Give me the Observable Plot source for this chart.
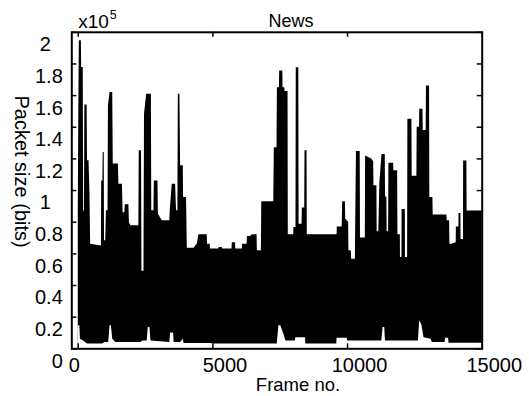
<!DOCTYPE html>
<html><head><meta charset="utf-8">
<script src="https://cdn.jsdelivr.net/npm/d3@7"></script>
<script src="https://cdn.jsdelivr.net/npm/@observablehq/plot@0.6"></script>
<style>
html,body{margin:0;padding:0;background:#fff;}
svg{display:block;}
g[aria-label="title"] text{letter-spacing:1.5px;}
g[aria-label="xlabel"] text{letter-spacing:1.3px;}
g[aria-label="ylabel"] text{letter-spacing:1px;}
g[aria-label="exponent"] text{letter-spacing:1px;}
</style></head>
<body><div id="chart"></div>
<script>
// Upper envelope of the packet-size trace (frame no., bits)
const upperFrames = [0,20,40,115,125,185,200,230,245,330,345,400,410,435,460,860,870,915,925,965,975,1020,1045,1105,1120,1180,1280,1300,1490,1510,1640,1665,1730,1745,1880,1900,1950,2250,2265,2350,2365,2440,2460,2540,2715,2730,2810,2825,2960,2975,3120,3400,3415,3490,3615,3650,3700,3715,3775,3800,3900,3910,4020,4050,4300,4420,4480,4790,4800,4900,4910,5220,5230,5350,5360,5710,5720,5840,5850,6090,6100,6270,6280,6400,6460,6640,6650,6800,6815,7260,7280,7380,7395,7470,7480,7595,7605,7670,7680,7790,7800,8000,8010,8085,8095,8190,8200,8310,8320,8410,8420,8495,8505,9610,9620,9800,9820,9920,9930,10040,10050,10140,10150,10290,10330,10470,10480,10660,10670,10900,10970,10980,11090,11100,11160,11200,11280,11400,11410,11460,11470,11525,11535,11710,11720,11860,11870,11960,11965,12020,12025,12145,12150,12230,12240,12390,12400,12575,12585,12675,12680,12800,12810,12920,12930,13045,13055,13170,13180,13690,13700,13790,13800,13875,14035,14040,14135,14140,14210,14215,14305,14310,14430,14440,15000];
const upperBits = [87000,150000,194600,194600,177700,177700,87000,87000,154000,154000,118800,118800,112500,97700,66000,65000,106100,106100,124000,124000,68200,68200,87200,87200,153500,162000,162000,116700,116700,104000,104000,86000,86000,91000,91000,79800,77700,77700,125100,125100,49000,49000,148200,160900,160900,87200,87200,106100,106100,85100,80900,80900,87200,104000,104000,87200,87200,160900,160900,115600,115600,95600,95600,63600,63600,66100,72000,72000,66100,66100,63000,63000,64000,64000,63000,63000,67000,67000,63000,63000,66100,66100,71000,71000,72000,72000,62000,62000,93000,93000,127000,127000,165000,165000,175600,175600,165000,165000,162600,162600,72000,72000,76600,76600,177600,177600,78700,78700,89000,89000,125100,125100,72000,72000,77000,77000,93000,93000,82000,80000,62000,62000,56600,56600,124600,124600,70000,70000,121800,120000,118000,103000,103000,74000,74000,105000,122800,122800,96000,96000,74000,74000,117200,117200,112500,112500,72000,72000,57700,57700,88000,88000,57700,57700,145100,145100,109000,109000,140000,140000,151400,151400,138000,138000,166100,166100,95600,95600,84500,84500,80900,80900,66100,66100,67000,77000,77000,85500,85500,69000,69000,118600,118600,87000,87000];
// Lower envelope of the trace (frame no., bits)
const lowerFrames = [0,60,80,200,340,900,1000,1130,1180,1230,1280,1400,2330,2400,2560,2600,2660,2700,3400,3430,3540,3560,3800,3900,3930,4900,5030,7390,7450,7520,7640,7710,8060,8080,8440,8450,9600,9610,9990,10000,11270,11320,11380,11410,12630,12680,12760,12840,13100,13150,13620,13640,13750,13770,15000];
const lowerBits = [14500,14500,6000,5000,3000,3000,4000,4000,14500,14500,6000,4000,4000,5000,5000,13500,13500,5000,4000,10000,10000,4000,4000,6000,3300,3300,3000,3000,14500,14500,9000,5000,5000,7000,7000,3000,3000,6600,6600,5000,5000,13500,13500,5000,5000,17700,15000,7000,6000,4000,4000,6600,6600,3500,3500];

const xTicks = [0, 5000, 10000, 15000];
const yTicks = [0, 20000, 40000, 60000, 80000, 100000, 120000, 140000, 160000, 180000, 200000];
const title = "News";
const xLabel = "Frame no.";
const yLabel = "Packet size (bits)";
const exponentBase = "x10";
const exponentPower = "5";

const upper = upperFrames.map((f, i) => ({frame: f, bits: upperBits[i]}));
const lower = lowerFrames.map((f, i) => ({frame: f, bits: lowerBits[i]}));

const W = 529, H = 396;
const mL = 71.3, mR = 47.3, mT = 31.8, mB = 47.7;
const pw = W - mL - mR, ph = H - mT - mB;
const fmt = d => String(+(d / 1e5).toFixed(1));
const yFrac = yTicks.filter(d => d % 100000 !== 0 || d === 0);
const yInt = yTicks.filter(d => d % 100000 === 0 && d !== 0);

const chart = Plot.plot({
  width: W, height: H,
  marginLeft: mL, marginRight: mR, marginTop: mT, marginBottom: mB,
  x: {domain: [-240, 15000], axis: null},
  y: {domain: [0, 200000], axis: null},
  style: {fontFamily: "'Liberation Sans', Arial, Helvetica, sans-serif", background: "white", color: "black", overflow: "visible"},
  marks: [
    Plot.areaY(upper, {x: "frame", y: "bits", fill: "black"}),
    Plot.areaY(lower, {x: "frame", y: "bits", fill: "white"}),
    Plot.tickY(yTicks, {y: d => d, stroke: "black", strokeWidth: 1.5, insetRight: pw - 5}),
    Plot.tickY(yTicks, {y: d => d, stroke: "black", strokeWidth: 1.5, insetLeft: pw - 5}),
    Plot.tickX(xTicks, {x: d => d, stroke: "black", strokeWidth: 1.5, insetTop: ph - 5}),
    Plot.tickX(xTicks, {x: d => d, stroke: "black", strokeWidth: 1.5, insetBottom: ph - 5}),
    Plot.frame({stroke: "black", strokeWidth: 2}),
    // y tick labels
    Plot.text(yFrac, {y: d => d, text: fmt, frameAnchor: "left", textAnchor: "end", dx: -9, dy: 12.5, fontSize: 20, fill: "black"}),
    Plot.text(yInt, {y: d => d, text: fmt, frameAnchor: "left", textAnchor: "end", dx: -21, dy: 12.5, fontSize: 20, fill: "black"}),
    // x tick labels
    Plot.text(xTicks.slice(0, 1), {x: d => d, text: d => String(d), frameAnchor: "bottom", dx: -4, dy: 23.5, fontSize: 20, fill: "black"}),
    Plot.text(xTicks.slice(1), {x: d => d, text: d => String(d), frameAnchor: "bottom", dx: 12, dy: 23.5, fontSize: 20, fill: "black"}),
    // title, exponent, axis labels
    Plot.text([title], {text: d => d, frameAnchor: "top", textAnchor: "middle", lineAnchor: "bottom", dx: 14, dy: -5, fontSize: 18, fill: "black", ariaLabel: "title"}),
    Plot.text([exponentBase], {text: d => d, frameAnchor: "top-left", textAnchor: "start", lineAnchor: "bottom", dx: 6.5, dy: -4.5, fontSize: 19, fill: "black", ariaLabel: "exponent"}),
    Plot.text([exponentPower], {text: d => d, frameAnchor: "top-left", textAnchor: "start", lineAnchor: "bottom", dx: 38, dy: -13.5, fontSize: 12.5, fill: "black"}),
    Plot.text([xLabel], {text: d => d, frameAnchor: "bottom", textAnchor: "middle", lineAnchor: "bottom", dx: 21, dy: 42.5, fontSize: 18.5, fill: "black", ariaLabel: "xlabel"}),
    Plot.text([yLabel], {text: d => d, frameAnchor: "left", textAnchor: "middle", rotate: 90, dx: -50, dy: -19, fontSize: 20, fill: "black", ariaLabel: "ylabel"})
  ]
});
document.getElementById("chart").appendChild(chart);
</script></body></html>
